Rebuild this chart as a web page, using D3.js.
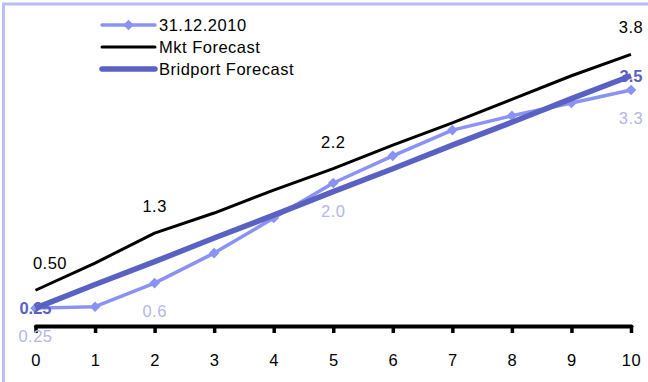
<!DOCTYPE html>
<html>
<head>
<meta charset="utf-8">
<script src="https://cdn.jsdelivr.net/npm/d3@7"></script>
<style>
  html, body { margin: 0; padding: 0; background: #fff; }
  svg { display: block; font-family: "Liberation Sans", Arial, sans-serif; }
</style>
</head>
<body>
<svg id="chart" width="648" height="382"></svg>
<script>
// Horizon (years) along the x axis
const years = [0, 1, 2, 3, 4, 5, 6, 7, 8, 9, 10];
const xTickLabels = ["0", "1", "2", "3", "4", "5", "6", "7", "8", "9", "10"];

// Curve observed at 31.12.2010
const curve2010 = [0.25, 0.27, 0.6, 1.02, 1.51, 2.0, 2.38, 2.74, 2.94, 3.12, 3.3];
// Market forecast
const mktForecast = [0.5, 0.88, 1.3, 1.58, 1.9, 2.2, 2.53, 2.84, 3.17, 3.5, 3.8];
// Bridport forecast
const bridportForecast = [0.25, 0.58, 0.9, 1.23, 1.55, 1.88, 2.2, 2.53, 2.85, 3.18, 3.5];

// Which points carry a value label, with their text
const curve2010Labels = [[0, "0.25"], [2, "0.6"], [5, "2.0"], [10, "3.3"]];
const mktLabels = [[0, "0.50"], [2, "1.3"], [5, "2.2"], [10, "3.8"]];
const bridportLabels = [[0, "0.25"], [10, "3.5"]];

const seriesNames = ["31.12.2010", "Mkt Forecast", "Bridport Forecast"];

const colors = {
  curve: "#8a93f4",
  curveLabel: "#b3b7e9",
  mkt: "#000000",
  bridport: "#5961c2",
  frame: "#b9bef3"
};

const fontSize = 16.5;
const spacing = 0.5;

const svg = d3.select("#chart");

// outer frame (left and top edges visible)
svg.append("rect")
  .attr("x", 3.5).attr("y", 4)
  .attr("width", 700).attr("height", 450)
  .attr("fill", "none")
  .attr("stroke", colors.frame)
  .attr("stroke-width", 3);

const x = d3.scaleLinear().domain([0, 10]).range([35.5, 631]);
const y = d3.scaleLinear().domain([0, 4]).range([326, 40]);

const line = d3.line()
  .x((d, i) => x(years[i]))
  .y(d => y(d));

// x axis
const axis = d3.axisBottom(x)
  .tickValues(years)
  .tickFormat((d, i) => xTickLabels[i])
  .tickSize(7)
  .tickSizeOuter(0);

const gx = svg.append("g")
  .attr("transform", `translate(0,${y(0)})`)
  .call(axis);
gx.select(".domain")
  .attr("stroke", "#000")
  .attr("stroke-width", 4)
  .attr("stroke-linecap", "round");
gx.selectAll(".tick line")
  .attr("stroke", "#000")
  .attr("stroke-width", 3.5);
gx.selectAll(".tick text")
  .attr("font-size", 16.5)
  .attr("fill", "#000")
  .attr("y", 28)
  .attr("dy", "0.71em")
  .attr("letter-spacing", spacing)
  .attr("font-family", "Liberation Sans, Arial, sans-serif");

// 31.12.2010 curve with diamond markers
svg.append("path")
  .datum(curve2010)
  .attr("d", line)
  .attr("fill", "none")
  .attr("stroke", colors.curve)
  .attr("stroke-width", 3.5)
  .attr("stroke-linejoin", "round");

const diamond = d3.symbol().type(d3.symbolDiamond2).size(72);
svg.append("g").selectAll("path")
  .data(curve2010)
  .join("path")
  .attr("d", diamond)
  .attr("transform", (d, i) => `translate(${x(years[i])},${y(d)})`)
  .attr("fill", colors.curve);

// Market forecast
svg.append("path")
  .datum(mktForecast)
  .attr("d", line)
  .attr("fill", "none")
  .attr("stroke", colors.mkt)
  .attr("stroke-width", 3)
  .attr("stroke-linejoin", "round");

// Bridport forecast
svg.append("path")
  .datum(bridportForecast)
  .attr("d", line)
  .attr("fill", "none")
  .attr("stroke", colors.bridport)
  .attr("stroke-width", 5.5)
  .attr("stroke-linejoin", "round");

// value labels
// market forecast labels sit above the line, kept inside the plot on the left
svg.append("g").selectAll("text")
  .data(mktLabels)
  .join("text")
  .attr("x", ([i]) => Math.max(x(years[i]), 50))
  .attr("y", ([i]) => y(mktForecast[i]) - 21)
  .attr("text-anchor", "middle")
  .attr("font-size", fontSize)
  .attr("letter-spacing", spacing)
  .attr("fill", colors.mkt)
  .text(([, t]) => t);

// 31.12.2010 labels sit below the curve
svg.append("g").selectAll("text")
  .data(curve2010Labels)
  .join("text")
  .attr("x", ([i]) => x(years[i]))
  .attr("y", ([i]) => y(curve2010[i]) + 34)
  .attr("text-anchor", "middle")
  .attr("font-size", fontSize)
  .attr("letter-spacing", spacing)
  .attr("fill", colors.curveLabel)
  .text(([, t]) => t);

// Bridport labels sit on the end points
svg.append("g").selectAll("text")
  .data(bridportLabels)
  .join("text")
  .attr("x", ([i]) => x(years[i]))
  .attr("y", ([i]) => y(bridportForecast[i]) + 6)
  .attr("text-anchor", "middle")
  .attr("font-size", fontSize)
  .attr("font-weight", "bold")
  .attr("fill", colors.bridport)
  .text(([, t]) => t);

// legend
const legend = svg.append("g");
const legendRows = [
  { name: seriesNames[0], color: colors.curve, width: 3.5, marker: true },
  { name: seriesNames[1], color: colors.mkt, width: 3, marker: false },
  { name: seriesNames[2], color: colors.bridport, width: 5.5, marker: false }
];
const rowY = [25, 47, 69];
legendRows.forEach((r, k) => {
  const g = legend.append("g").attr("transform", `translate(0,${rowY[k]})`);
  g.append("line")
    .attr("x1", 102).attr("x2", 155)
    .attr("y1", 0).attr("y2", 0)
    .attr("stroke", r.color)
    .attr("stroke-width", r.width)
    .attr("stroke-linecap", "round");
  if (r.marker) {
    g.append("path")
      .attr("d", diamond)
      .attr("transform", "translate(128.5,0)")
      .attr("fill", r.color);
  }
  g.append("text")
    .attr("x", 159)
    .attr("y", 6)
    .attr("font-size", fontSize)
    .attr("letter-spacing", spacing)
    .attr("fill", "#000")
    .text(r.name);
});
</script>
</body>
</html>
